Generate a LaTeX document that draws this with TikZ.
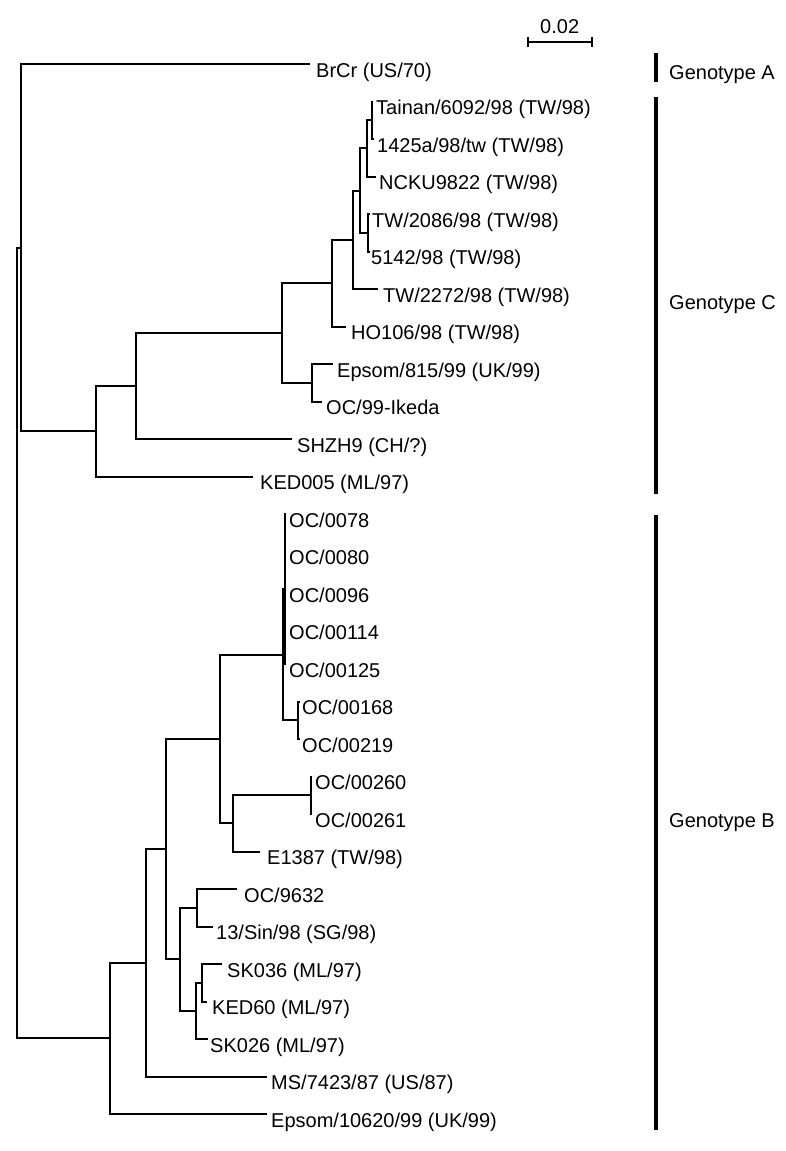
\documentclass[tikz,border=0pt]{standalone}
\usepackage{fontspec}
\setmainfont{Liberation Sans}

\begin{document}
\begin{tikzpicture}[x=1pt, y=-1pt,
    branch/.style={line width=2pt},
    taxon/.style={anchor=base west, inner sep=0pt, font=\fontsize{20}{24}\selectfont},
    genobar/.style={line width=4pt},
    genolabel/.style={anchor=base west, inner sep=0pt, font=\fontsize{20}{24}\selectfont}
]
\useasboundingbox (0,0) rectangle (786,1151);

% Branch tips
\coordinate (brcr) at (310,64);
\coordinate (tainan) at (373,101.5);
\coordinate (tw1425) at (374,139);
\coordinate (ncku) at (376,176.5);
\coordinate (tw2086) at (370,214);
\coordinate (tw5142) at (370,251.5);
\coordinate (tw2272) at (378,289);
\coordinate (ho106) at (346,326.5);
\coordinate (epsom815) at (333,364);
\coordinate (ikeda) at (322,401.5);
\coordinate (shzh9) at (292,439);
\coordinate (ked005) at (253,476.5);
\coordinate (oc0078) at (286,514);
\coordinate (oc0080) at (286,551.5);
\coordinate (oc0096) at (286,589);
\coordinate (oc00114) at (286,626.5);
\coordinate (oc00125) at (286,664);
\coordinate (oc00168) at (300,701.5);
\coordinate (oc00219) at (300,739);
\coordinate (oc00260) at (312,776.5);
\coordinate (oc00261) at (312,814);
\coordinate (e1387) at (260,851.5);
\coordinate (oc9632) at (237,889);
\coordinate (sin13) at (213,926.5);
\coordinate (sk036) at (222,964);
\coordinate (ked60) at (207,1001.5);
\coordinate (sk026) at (208,1039);
\coordinate (ms7423) at (267,1076.5);
\coordinate (epsom10620) at (267,1114);

% Taxon labels
\node[taxon] (brcr-t) at (316,77) {BrCr (US/70)};
\node[taxon] (tainan-t) at (376,114.5) {Tainan/6092/98 (TW/98)};
\node[taxon] (tw1425-t) at (377,152) {1425a/98/tw (TW/98)};
\node[taxon] (ncku-t) at (379,189.5) {NCKU9822 (TW/98)};
\node[taxon] (tw2086-t) at (372,227) {TW/2086/98 (TW/98)};
\node[taxon] (tw5142-t) at (371,264.5) {5142/98 (TW/98)};
\node[taxon] (tw2272-t) at (383,302) {TW/2272/98 (TW/98)};
\node[taxon] (ho106-t) at (351,339.5) {HO106/98 (TW/98)};
\node[taxon] (epsom815-t) at (337,377) {Epsom/815/99 (UK/99)};
\node[taxon] (ikeda-t) at (326,414.5) {OC/99-Ikeda};
\node[taxon] (shzh9-t) at (297,452) {SHZH9 (CH/?)};
\node[taxon] (ked005-t) at (260,489.5) {KED005 (ML/97)};
\node[taxon] (oc0078-t) at (289,527) {OC/0078};
\node[taxon] (oc0080-t) at (289,564.5) {OC/0080};
\node[taxon] (oc0096-t) at (289,602) {OC/0096};
\node[taxon] (oc00114-t) at (289,639.5) {OC/00114};
\node[taxon] (oc00125-t) at (289,677) {OC/00125};
\node[taxon] (oc00168-t) at (302,714.5) {OC/00168};
\node[taxon] (oc00219-t) at (302,752) {OC/00219};
\node[taxon] (oc00260-t) at (315,789.5) {OC/00260};
\node[taxon] (oc00261-t) at (315,827) {OC/00261};
\node[taxon] (e1387-t) at (267,864.5) {E1387 (TW/98)};
\node[taxon] (oc9632-t) at (244,902) {OC/9632};
\node[taxon] (sin13-t) at (216,939.5) {13/Sin/98 (SG/98)};
\node[taxon] (sk036-t) at (227,977) {SK036 (ML/97)};
\node[taxon] (ked60-t) at (212,1014.5) {KED60 (ML/97)};
\node[taxon] (sk026-t) at (210,1052) {SK026 (ML/97)};
\node[taxon] (ms7423-t) at (271,1089.5) {MS/7423/87 (US/87)};
\node[taxon] (epsom10620-t) at (271,1127) {Epsom/10620/99 (UK/99)};

% Internal nodes
\coordinate (root) at (16.7,643);
\coordinate (nAC) at (20.7,247.6);
\coordinate (nC1) at (95.7,431.25);
\coordinate (nC2) at (135.7,386);
\coordinate (nC3) at (281.7,333);
\coordinate (nC4) at (332,283.1);
\coordinate (nC5) at (353.3,239.8);
\coordinate (nC6) at (360,190.6);
\coordinate (nC7) at (366.7,148.4);
\coordinate (nC8) at (371.7,120.25);
\coordinate (nC9) at (368.3,232.75);
\coordinate (nC10) at (312.3,382.75);
\coordinate (nB1) at (110,1038.4);
\coordinate (nB2) at (145.7,962.8);
\coordinate (nB3) at (165.5,849.1);
\coordinate (nB4) at (220.3,739);
\coordinate (nB5) at (283,654.6);
\coordinate (nB6) at (284.7,589);
\coordinate (nB7) at (298,720.25);
\coordinate (nB8) at (233.3,823.4);
\coordinate (nB9) at (310.7,795.25);
\coordinate (nB10) at (180,959.3);
\coordinate (nB11) at (196.7,907.75);
\coordinate (nB12) at (195.5,1010.9);
\coordinate (nB13) at (202.3,982.75);

% Branches
\draw[branch] (root) |- (nAC);
\draw[branch] (root) |- (nB1);
\draw[branch] (nAC) |- (brcr);
\draw[branch] (nAC) |- (nC1);
\draw[branch] (nC1) |- (nC2);
\draw[branch] (nC1) |- (ked005);
\draw[branch] (nC2) |- (nC3);
\draw[branch] (nC2) |- (shzh9);
\draw[branch] (nC3) |- (nC4);
\draw[branch] (nC3) |- (nC10);
\draw[branch] (nC10) |- (epsom815);
\draw[branch] (nC10) |- (ikeda);
\draw[branch] (nC4) |- (nC5);
\draw[branch] (nC4) |- (ho106);
\draw[branch] (nC5) |- (nC6);
\draw[branch] (nC5) |- (tw2272);
\draw[branch] (nC6) |- (nC7);
\draw[branch] (nC6) |- (nC9);
\draw[branch] (nC7) |- (nC8);
\draw[branch] (nC7) |- (ncku);
\draw[branch] (nC8) |- (tainan);
\draw[branch] (nC8) |- (tw1425);
\draw[branch] (nC9) |- (tw2086);
\draw[branch] (nC9) |- (tw5142);

\draw[branch] (nB1) |- (nB2);
\draw[branch] (nB1) |- (epsom10620);
\draw[branch] (nB2) |- (nB3);
\draw[branch] (nB2) |- (ms7423);
\draw[branch] (nB3) |- (nB4);
\draw[branch] (nB3) |- (nB10);
\draw[branch] (nB4) |- (nB5);
\draw[branch] (nB4) |- (nB8);
\draw[branch] (nB5) |- (nB6);
\draw[branch] (nB5) |- (nB7);
\draw[branch] (nB6) |- (oc0078);
\draw[branch] (nB6) |- (oc0080);
\draw[branch] (nB6) |- (oc0096);
\draw[branch] (nB6) |- (oc00114);
\draw[branch] (nB6) |- (oc00125);
\draw[branch] (nB7) |- (oc00168);
\draw[branch] (nB7) |- (oc00219);
\draw[branch] (nB8) |- (nB9);
\draw[branch] (nB8) |- (e1387);
\draw[branch] (nB9) |- (oc00260);
\draw[branch] (nB9) |- (oc00261);
\draw[branch] (nB10) |- (nB11);
\draw[branch] (nB10) |- (nB12);
\draw[branch] (nB11) |- (oc9632);
\draw[branch] (nB11) |- (sin13);
\draw[branch] (nB12) |- (nB13);
\draw[branch] (nB12) |- (sk026);
\draw[branch] (nB13) |- (sk036);
\draw[branch] (nB13) |- (ked60);

% Scale bar
\coordinate (sbl) at (527.7,41.7);
\coordinate (sbr) at (591.7,41.7);
\draw[branch] (sbl) -- (sbr);
\draw[branch] ([yshift=5pt]sbl) -- ([yshift=-5pt]sbl);
\draw[branch] ([yshift=5pt]sbr) -- ([yshift=-5pt]sbr);
\node[taxon, anchor=base] (sblabel) at (559.7,33) {0.02};

% Genotypes
\coordinate (gAtop) at (655.7,53);
\coordinate (gAbot) at (655.7,82);
\coordinate (gCtop) at (655.7,97);
\coordinate (gCbot) at (655.7,494);
\coordinate (gBtop) at (655.7,515);
\coordinate (gBbot) at (655.7,1130);
\draw[genobar] (gAtop) -- (gAbot);
\draw[genobar] (gCtop) -- (gCbot);
\draw[genobar] (gBtop) -- (gBbot);
\node[genolabel] (gA) at (669,79.5) {Genotype A};
\node[genolabel] (gC) at (669,309.5) {Genotype C};
\node[genolabel] (gB) at (669,827.5) {Genotype B};
\end{tikzpicture}
\end{document}
